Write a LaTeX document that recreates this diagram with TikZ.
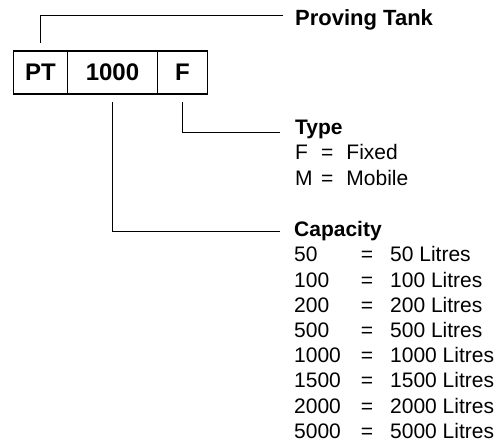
\documentclass[tikz,border=0pt]{standalone}
\usepackage{fontspec}
\setmainfont{Liberation Sans}
\usetikzlibrary{positioning}

\tikzset{
  cell/.style={rectangle, draw, line width=1.7pt, outer sep=0pt, inner sep=0pt,
               minimum height=43pt, font=\fontsize{24}{28}\selectfont\bfseries},
  leader/.style={line width=0.9pt},
  hdr/.style={anchor=base west, inner sep=0pt, font=\fontsize{21}{25.2}\selectfont\bfseries},
  entry/.style={anchor=base west, inner sep=0pt, font=\fontsize{21}{25.2}\selectfont},
}

\begin{document}
\begin{tikzpicture}[x=1pt,y=-1pt]
\useasboundingbox (0,0) rectangle (503,443);

% code box
\node[cell, minimum width=54pt] (pt) at (40.5,72.5) {PT};
\node[cell, minimum width=90pt, right=0pt of pt] (cap) {1000};
\node[cell, minimum width=50pt, right=0pt of cap] (typ) {F};

% proving tank
\coordinate (ptend) at (283,15);
\draw[leader] ([yshift=8pt]pt.north) |- (ptend);
\node[hdr, font=\fontsize{22}{26}\selectfont\bfseries] (ptlbl) at (295,26) {Proving Tank};

% type
\coordinate (typend) at (280,132.7);
\draw[leader] ([yshift=-8pt]typ.south) |- (typend);
\node[hdr] (typhdr) at (295,135) {Type};
\node[entry] (typlist) at (295,160)
  {\begin{tabular}[t]{@{}l@{\hspace{8.5pt}}l@{\hspace{13pt}}l@{}}
   F & = & Fixed\\
   M & = & Mobile
   \end{tabular}};

% capacity
\coordinate (capend) at (280,231);
\draw[leader] ([yshift=-8pt]cap.south) |- (capend);
\node[hdr] (caphdr) at (294,237) {Capacity};
\node[entry] (caplist) at (294,262)
  {\begin{tabular}[t]{@{}l@{\hspace{20pt}}l@{\hspace{17pt}}l@{}}
   50   & = & 50 Litres\\
   100  & = & 100 Litres\\
   200  & = & 200 Litres\\
   500  & = & 500 Litres\\
   1000 & = & 1000 Litres\\
   1500 & = & 1500 Litres\\
   2000 & = & 2000 Litres\\
   5000 & = & 5000 Litres
   \end{tabular}};
\end{tikzpicture}
\end{document}
